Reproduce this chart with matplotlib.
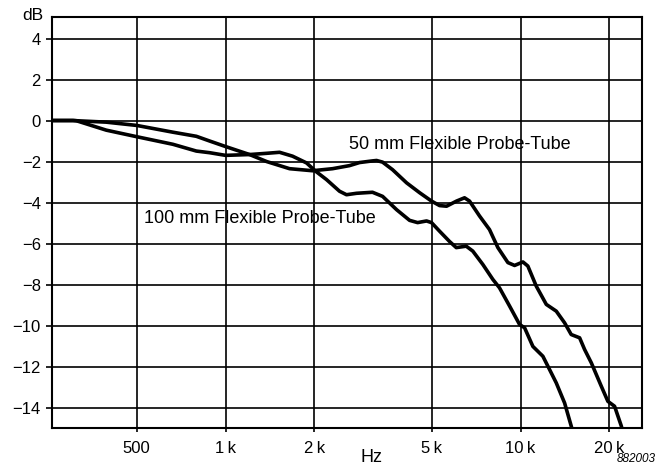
import matplotlib
matplotlib.use("Agg")
import matplotlib.pyplot as plt
from matplotlib.ticker import FixedLocator, NullLocator

plt.rcParams["font.family"] = ["Liberation Sans", "DejaVu Sans"]

# 50 mm probe tube, frequency in Hz and level in dB
f_50 = [260, 304, 312, 394, 500, 663, 796, 883, 1000, 1206, 1377, 1648, 1972,
        2305, 2632, 2845, 3148, 3250, 3406, 3683, 4108, 4546, 4990, 5315, 5613,
        6067, 6457, 6714, 7261, 7847, 8377, 9057, 9543, 10186, 10586, 11303,
        12223, 13213, 14102, 14846, 15855, 16484, 17370, 18776, 19770, 20830,
        21950, 22300]
db_50 = [0.0, 0.0, -0.01, -0.08, -0.24, -0.57, -0.77, -1.0, -1.27, -1.66, -2.0,
         -2.35, -2.45, -2.35, -2.2, -2.05, -1.97, -1.95, -2.03, -2.4, -3.04, -3.52,
         -3.93, -4.15, -4.18, -3.93, -3.77, -3.93, -4.66, -5.32, -6.2, -6.93, -7.07,
         -6.9, -7.1, -8.08, -8.97, -9.3, -9.87, -10.44, -10.6, -11.17, -11.82,
         -12.96, -13.7, -13.94, -14.9, -15.3]

# 100 mm probe tube
f_100 = [260, 304, 312, 394, 500, 663, 796, 883, 1000, 1206, 1377, 1524, 1687,
         1882, 2018, 2198, 2434, 2570, 2780, 3148, 3406, 3800, 4205, 4477, 4800,
         4990, 5315, 5743, 6054, 6543, 6887, 7447, 8053, 8482, 9177, 9922, 10318,
         11009, 11902, 12542, 13213, 14102, 14846, 15100]
db_100 = [0.0, 0.0, -0.01, -0.47, -0.79, -1.16, -1.49, -1.57, -1.7, -1.66, -1.6,
          -1.55, -1.74, -2.07, -2.47, -2.88, -3.45, -3.62, -3.55, -3.5, -3.7,
          -4.35, -4.87, -4.98, -4.9, -4.98, -5.4, -5.9, -6.2, -6.13, -6.37, -7.02,
          -7.75, -8.16, -9.05, -9.95, -10.11, -11.02, -11.5, -12.15, -12.8,
          -13.78, -14.9, -15.3]

x_ticks = [500, 1000, 2000, 5000, 10000, 20000]
x_labels = ["500", "1\u2009k", "2\u2009k", "5\u2009k", "10\u2009k", "20\u2009k"]
y_ticks = [4, 2, 0, -2, -4, -6, -8, -10, -12, -14]

fig = plt.figure(figsize=(6.59, 4.72), dpi=100)
ax = fig.add_axes([0.0789, 0.0932, 0.8953, 0.8708])

ax.plot(f_50, db_50, color="black", lw=2.6, solid_joinstyle="round", zorder=3)
ax.plot(f_100, db_100, color="black", lw=2.6, solid_joinstyle="round", zorder=3)

ax.set_xscale("log")
ax.set_xlim(258, 25800)
ax.set_ylim(-15, 5.05)

ax.xaxis.set_major_locator(FixedLocator(x_ticks))
ax.xaxis.set_minor_locator(NullLocator())
ax.set_xticklabels(x_labels)
ax.set_yticks(y_ticks)
ax.set_yticklabels([str(v).replace("-", "\u2212") for v in y_ticks])

ax.grid(True, color="black", lw=1.2)
ax.tick_params(axis="both", direction="out", color="black", width=1.2,
               labelsize=12)
ax.tick_params(axis="y", length=4, pad=4)
ax.tick_params(axis="x", length=3, pad=6)
for s in ax.spines.values():
    s.set_linewidth(1.5)

ax.text(2612, -1.17, "50 mm Flexible Probe-Tube", fontsize=13,
        ha="left", va="center")
ax.text(531, -4.78, "100 mm Flexible Probe-Tube", fontsize=13,
        ha="left", va="center")

fig.text(43 / 659, 1 - 15 / 472, "dB", fontsize=12.5, ha="right", va="center")
fig.text(372 / 659, 1 - 457 / 472, "Hz", fontsize=13, ha="center", va="center")
fig.text(656 / 659, 1 - 459 / 472, "882003", fontsize=8.5, style="italic",
         ha="right", va="center")

fig.savefig("out.png", dpi=100)
